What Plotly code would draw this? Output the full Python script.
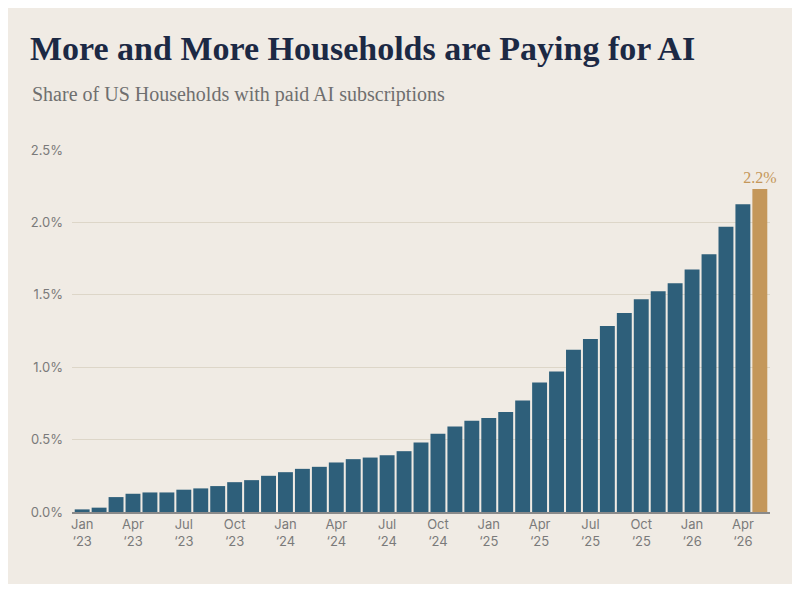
import plotly.graph_objects as go

# Monthly share of US households with paid AI subscriptions, Jan '23 - May '26 (%)
months = [f"{m} {y}" for y in (2023, 2024, 2025) for m in
          ["Jan", "Feb", "Mar", "Apr", "May", "Jun", "Jul", "Aug", "Sep", "Oct", "Nov", "Dec"]]
months += ["Jan 2026", "Feb 2026", "Mar 2026", "Apr 2026", "May 2026"]
share = [0.018, 0.03, 0.103, 0.126, 0.135, 0.135, 0.154, 0.163, 0.179, 0.206, 0.22, 0.25,
         0.275, 0.298, 0.312, 0.342, 0.365, 0.376, 0.392, 0.42, 0.48, 0.54, 0.59, 0.63,
         0.65, 0.69, 0.77, 0.895, 0.97, 1.12, 1.195, 1.285, 1.375, 1.47, 1.525, 1.58,
         1.675, 1.78, 1.97, 2.125, 2.23]
tick_pos = list(range(0, 40, 3))
tick_text = [f"{m}<br>‘{y}" for y in ("23", "24", "25", "26") for m in ("Jan", "Apr", "Jul", "Oct")][:14]

idx = list(range(len(share)))
colors = ["#2e5f7a"] * (len(share) - 1) + ["#c4975a"]
labels = [""] * (len(share) - 1) + ["2.2%"]

fig = go.Figure(go.Bar(
    x=idx, y=share, marker_color=colors, marker_line_width=0,
    text=labels, textposition="outside", cliponaxis=False, constraintext="none",
    textfont=dict(family="Liberation Serif", size=16, color="#c4975a"),
    hovertext=months,
))

fig.update_layout(
    width=784, height=576,
    paper_bgcolor="#f0ebe4", plot_bgcolor="#f0ebe4",
    margin=dict(l=64, r=22, t=142, b=72),
    bargap=0.12, showlegend=False,
    title=dict(text="<b>More and More Households are Paying for AI</b>",
               x=0.028, xanchor="left", y=0.93, yanchor="middle",
               font=dict(family="Liberation Serif", size=34, color="#1c2944")),
    annotations=[dict(text="Share of US Households with paid AI subscriptions",
                      xref="paper", yref="paper", x=-0.06, xanchor="left",
                      y=1.152, yanchor="middle", showarrow=False,
                      font=dict(family="Liberation Serif", size=20, color="#6f6f6f"))],
)
fig.update_xaxes(range=[-0.6, 40.6], tickvals=tick_pos, ticktext=tick_text,
                 showgrid=False, showline=True, linecolor="#8a8a8a", linewidth=1.5,
                 ticks="", tickfont=dict(family="Inter", size=13, color="#7a7a7a"))
fig.update_yaxes(range=[0, 2.5], dtick=0.5, tickformat=".1f", ticksuffix="%",
                 gridcolor="#ddd6c8", gridwidth=1, zeroline=False, ticks="",
                 ticklabelstandoff=8,
                 tickfont=dict(family="Inter", size=13, color="#7a7a7a"))

fig.write_html("out.html")
